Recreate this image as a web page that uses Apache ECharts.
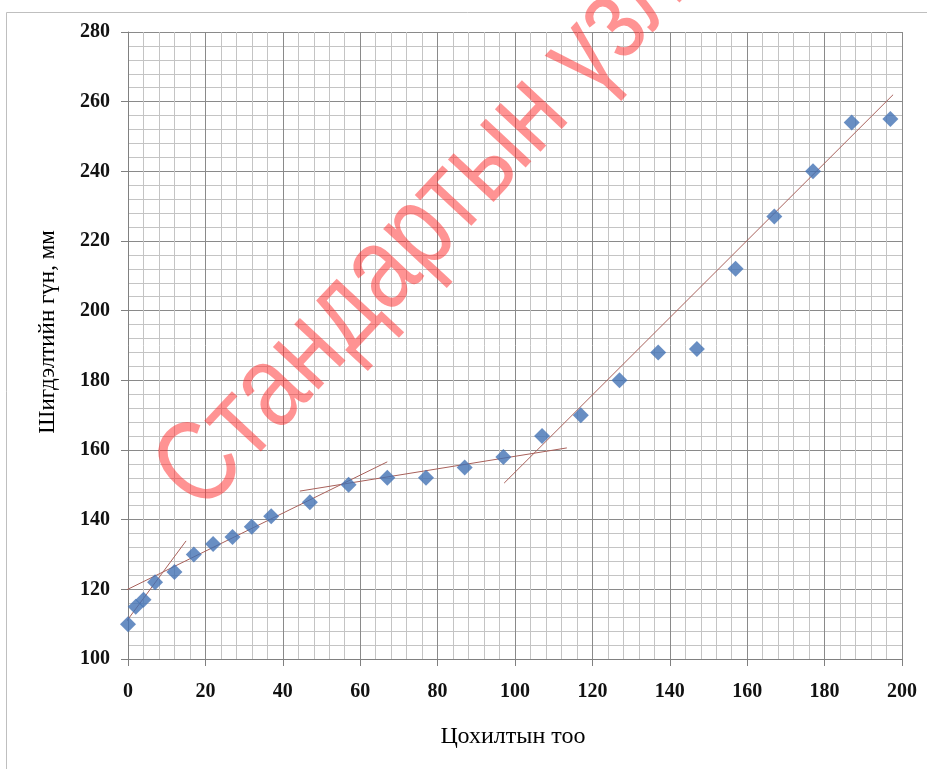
<!DOCTYPE html>
<html><head><meta charset="utf-8">
<script src="https://cdn.jsdelivr.net/npm/echarts@6/dist/echarts.min.js"></script>
<style>html,body{margin:0;padding:0;background:#fff}#c{width:927px;height:769px}</style>
</head><body><div id="c"></div>
<script>
const xTitle = 'Цохилтын тоо';
const yTitle = 'Шигдэлтийн гүн, мм';
const watermark = 'Стандартын үзлэг';
const hitCount = [0,2,4,7,12,17,22,27,32,37,47,57,67,77,87,97,107,117,127,137,147,157,167,177,187,197];
const depth = [110,115,117,122,125,130,133,135,138,141,145,150,152,152,155,158,164,170,180,188,189,212,227,240,254,255];
const trend1 = [[-3.6,106],[15,133.9]];
const trend2 = [[-1,119.5],[67,156.6]];
const trend3 = [[44.4,148.2],[113.4,160.6]];
const trend4 = [[97.2,150.5],[197.7,262]];
const trends = [trend1, trend2, trend3, trend4];

const chart = echarts.init(document.getElementById('c'));
const font = '"Liberation Serif", "DejaVu Serif", serif';
const axisCommon = {
  axisLine:{show:true,lineStyle:{color:'#808080',width:1}},
  axisTick:{show:true,length:7,lineStyle:{color:'#808080'}},
  minorTick:{show:false,splitNumber:5},
  splitLine:{show:true,lineStyle:{color:'#8a8a8a',width:1}},
  minorSplitLine:{show:true,lineStyle:{color:'#c4c4c4',width:1}}
};
chart.setOption({
  animation:false,
  grid:{left:128,top:32,right:25,bottom:110},
  xAxis:Object.assign({type:'value',min:0,max:200,interval:20}, axisCommon,
    {axisLabel:{fontFamily:font,fontSize:20,fontWeight:'bold',color:'#111',margin:23}}),
  yAxis:Object.assign({type:'value',min:100,max:280,interval:20}, axisCommon,
    {axisLabel:{fontFamily:font,fontSize:20,fontWeight:'bold',color:'#111',margin:18}}),
  graphic:[
    {type:'rect',left:4,top:10,shape:{width:960,height:800},style:{fill:'none',stroke:'#bfbfbf',lineWidth:1},z:-1},
    {type:'text',x:513,y:737,z:10,
      style:{text:xTitle,fill:'#000',font:'24px "Liberation Serif", serif',textAlign:'center',textVerticalAlign:'middle'}},
    {type:'text',x:48,y:332,rotation:Math.PI/2,z:10,
      style:{text:yTitle,fill:'#000',font:'23px "Liberation Serif", serif',textAlign:'center',textVerticalAlign:'middle'}},
    {type:'text',x:221,y:533,rotation:47*Math.PI/180,scaleX:0.81,z:100,
      style:{text:watermark,fill:'rgba(255,40,40,0.5)',font:'118px "Liberation Sans Narrow", "Liberation Sans", sans-serif',textVerticalAlign:'bottom'}}
  ],
  series:[
    ...trends.map(t=>({type:'line',data:t,symbol:'none',clip:false,silent:true,
      lineStyle:{color:'#a8605a',width:1},z:3})),
    {type:'scatter',data:hitCount.map((x,i)=>[x,depth[i]]),symbol:'diamond',symbolSize:16,
      itemStyle:{color:'#4272b4'},z:4}
  ]
});
</script></body></html>
